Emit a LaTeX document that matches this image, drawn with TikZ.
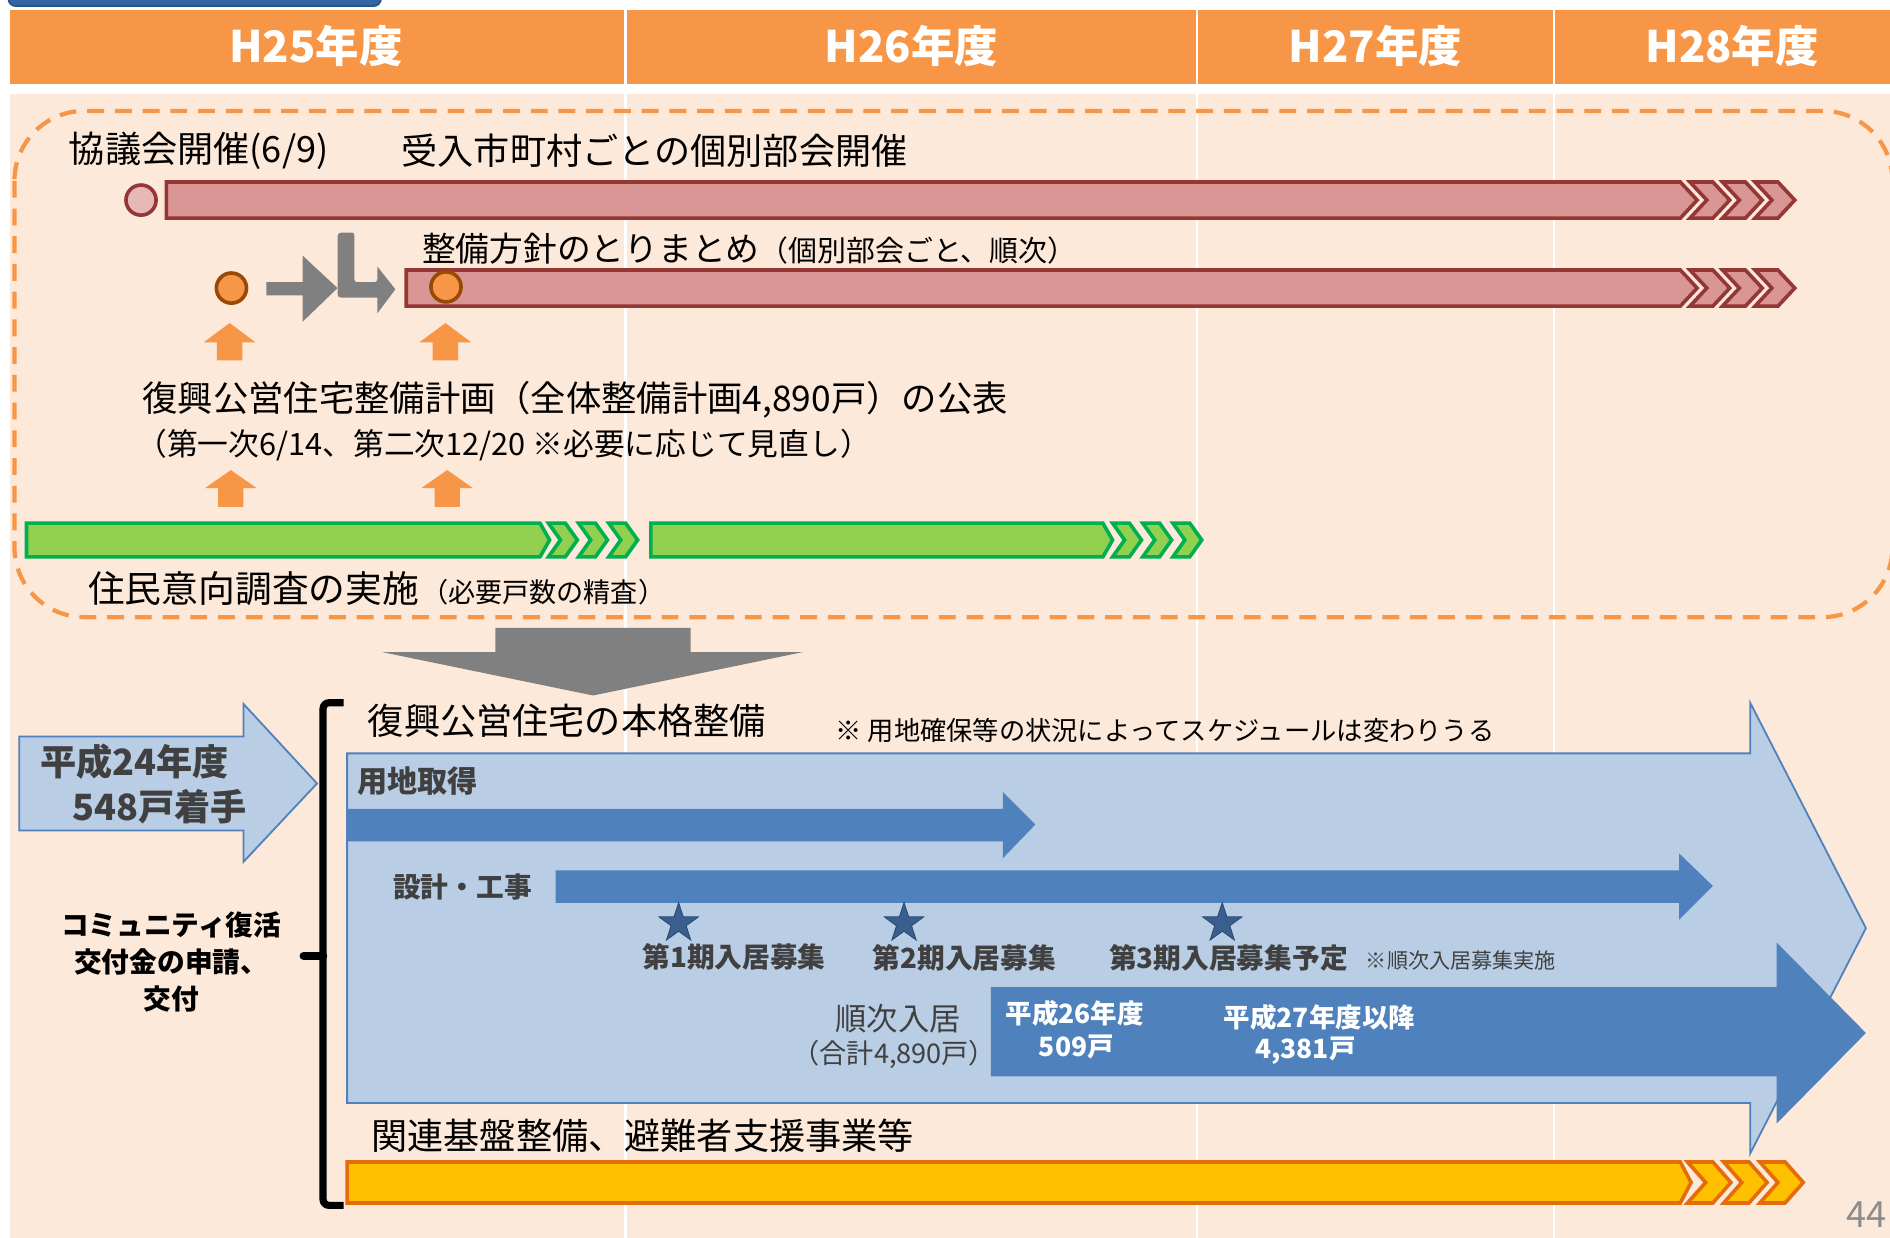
\documentclass[tikz,border=0pt]{standalone}
\usepackage{fontspec}
\setmainfont{Noto Sans CJK JP}
\usetikzlibrary{shapes,arrows,positioning}

\definecolor{HeadOrange}{HTML}{F79646}
\definecolor{Peach}{HTML}{FDE9D9}
\definecolor{TabBlue}{HTML}{3465A4}
\definecolor{TabLine}{HTML}{2A5286}
\definecolor{BarRed}{HTML}{D99694}
\definecolor{BarRedLine}{HTML}{953735}
\definecolor{PinkDot}{HTML}{E6B9B8}
\definecolor{DotLine}{HTML}{984807}
\definecolor{ArrowGray}{HTML}{808080}
\definecolor{BarGreen}{HTML}{92D050}
\definecolor{BarGreenLine}{HTML}{00B050}
\definecolor{PaleBlue}{HTML}{B9CDE5}
\definecolor{MidBlue}{HTML}{4F81BD}
\definecolor{StarBlue}{HTML}{3A5F8F}
\definecolor{StarLine}{HTML}{2C4D75}
\definecolor{BarGold}{HTML}{FFC000}
\definecolor{BarGoldLine}{HTML}{E46C0A}
\definecolor{TextGray}{HTML}{404040}
\definecolor{PageGray}{HTML}{8C8C8C}

\begin{document}
\begin{tikzpicture}[x=1pt, y=-1pt]
		\tikzstyle{Head}      = [inner sep=0pt, text=white, font=\bfseries\fontsize{36}{40}\selectfont]
		\tikzstyle{Big}       = [inner sep=0pt, anchor=west, font=\fontsize{30}{36}\selectfont]
		\tikzstyle{Note}      = [inner sep=0pt, anchor=west, font=\fontsize{25.5}{30}\selectfont]
		\tikzstyle{GrayBold}  = [inner sep=0pt, anchor=west, text=TextGray, font=\bfseries\fontsize{23}{28}\selectfont]
		\tikzstyle{WhiteBold} = [inner sep=0pt, text=white, font=\bfseries\fontsize{22}{28}\selectfont]
		\tikzstyle{RedBar}    = [fill=BarRed, draw=BarRedLine, line width=3pt]
		\tikzstyle{GreenBar}  = [fill=BarGreen, draw=BarGreenLine, line width=3pt]
		\tikzstyle{GoldBar}   = [fill=BarGold, draw=BarGoldLine, line width=3pt]
		\tikzstyle{UpArrow}   = [fill=HeadOrange]
		\tikzstyle{GrayArrow} = [fill=ArrowGray]
		\tikzstyle{PaleArrow} = [fill=PaleBlue, draw=MidBlue, line width=1.5pt]
		\tikzstyle{BlueArrow} = [fill=MidBlue]
		\tikzstyle{Frame}     = [draw=HeadOrange, line width=3.5pt, dash pattern=on 14pt off 9pt, rounded corners=58pt]
		\tikzstyle{Dot}       = [circle, draw=DotLine, fill=HeadOrange, line width=3pt, minimum size=25pt, inner sep=0pt]
		\tikzstyle{Star}      = [star, star points=5, star point ratio=2.6, fill=StarBlue, draw=StarLine, line width=0.8pt, minimum size=34pt, inner sep=0pt]

		\useasboundingbox (0,0) rectangle (1568,1027);
		\fill[white] (0,0) rectangle (1568,1027);

		% header and background
		\draw[fill=TabBlue, draw=TabLine, line width=1.5pt, rounded corners=6pt] (7,-20) rectangle (316,5);
		\fill[HeadOrange] (8,8) rectangle (1575,70);
		\fill[Peach] (8,78) rectangle (1575,1035);
		\draw (519,8) -- (519,1035) [white, line width=2pt];
		\draw (993,8) -- (993,1035) [white, line width=2pt];
		\draw (1289,8) -- (1289,1035) [white, line width=2pt];

		\node (h25) at (262,38) [Head] {H25年度};
		\node (h26) at (756,38) [Head] {H26年度};
		\node (h27) at (1141,38) [Head] {H27年度};
		\node (h28) at (1437,38) [Head] {H28年度};

		\draw[Frame] (12,92) rectangle (1570,512);

		% row 1
		\node (t1) at (57,125) [Big] {協議会開催(6/9)};
		\node (t2) at (333,125) [Big] {受入市町村ごとの個別部会開催};
		\draw[RedBar] (138,151) -- (1394,151) -- (1408,166) -- (1394,181) -- (138,181) -- cycle;
		\draw[RedBar] (1402,151) -- ++(19,0) -- ++(14,15) -- ++(-14,15) -- ++(-19,0) -- ++(14,-15) -- cycle;
		\draw[RedBar] (1429,151) -- ++(19,0) -- ++(14,15) -- ++(-14,15) -- ++(-19,0) -- ++(14,-15) -- cycle;
		\draw[RedBar] (1456,151) -- ++(19,0) -- ++(14,15) -- ++(-14,15) -- ++(-19,0) -- ++(14,-15) -- cycle;
		\node (c1) at (117,166) [Dot, fill=PinkDot, draw=BarRedLine] {};

		% row 2
		\node (t3) at (350,206) [inner sep=0pt, anchor=west] {{\fontsize{28}{34}\selectfont 整備方針のとりまとめ}{\fontsize{24}{30}\selectfont （個別部会ごと、順次）}};
		\draw[RedBar] (337,224) -- (1394,224) -- (1408,239) -- (1394,254) -- (337,254) -- cycle;
		\draw[RedBar] (1402,224) -- ++(19,0) -- ++(14,15) -- ++(-14,15) -- ++(-19,0) -- ++(14,-15) -- cycle;
		\draw[RedBar] (1429,224) -- ++(19,0) -- ++(14,15) -- ++(-14,15) -- ++(-19,0) -- ++(14,-15) -- cycle;
		\draw[RedBar] (1456,224) -- ++(19,0) -- ++(14,15) -- ++(-14,15) -- ++(-19,0) -- ++(14,-15) -- cycle;
		\node (c2) at (192,239) [Dot] {};
		\node (c3) at (370,238) [Dot] {};
		\fill[GrayArrow] (221,234) -- (251,234) -- (251,212) -- (280,239) -- (251,267) -- (251,245) -- (221,245) -- cycle;
		\fill[GrayArrow, rounded corners=2pt] (280,193) -- (294,193) -- (294,234) -- (313,234) [sharp corners] -- (313,221) -- (328,240) -- (313,260) -- (313,247) [rounded corners=3pt] -- (280,247) -- cycle;

		% plan announcement
		\fill[UpArrow] (190.5,268) -- (212,284) -- (201,284) -- (201,299) -- (180,299) -- (180,284) -- (169,284) -- cycle;
		\fill[UpArrow] (369.5,268) -- (391,284) -- (380,284) -- (380,299) -- (359,299) -- (359,284) -- (348,284) -- cycle;
		\node (t4) at (118,332) [inner sep=0pt, anchor=west, font=\fontsize{29.3}{35}\selectfont] {復興公営住宅整備計画（全体整備計画4,890戸）の公表};
		\node (t5) at (113,369) [Note] {（第一次6/14、第二次12/20 ※必要に応じて見直し）};
		\fill[UpArrow] (191.5,390) -- (213,405) -- (202,405) -- (202,420.5) -- (181,420.5) -- (181,405) -- (170,405) -- cycle;
		\fill[UpArrow] (371,390) -- (392.5,405) -- (381.5,405) -- (381.5,420.5) -- (360.5,420.5) -- (360.5,405) -- (349.5,405) -- cycle;

		% survey
		\draw[GreenBar] (22,434) -- (448,434) -- (456,448) -- (448,462) -- (22,462) -- cycle;
		\draw[GreenBar] (455,434) -- ++(14,0) -- ++(10,14) -- ++(-10,14) -- ++(-14,0) -- ++(10,-14) -- cycle;
		\draw[GreenBar] (480,434) -- ++(14,0) -- ++(10,14) -- ++(-10,14) -- ++(-14,0) -- ++(10,-14) -- cycle;
		\draw[GreenBar] (505,434) -- ++(14,0) -- ++(10,14) -- ++(-10,14) -- ++(-14,0) -- ++(10,-14) -- cycle;
		\draw[GreenBar] (540,434) -- (915,434) -- (923,448) -- (915,462) -- (540,462) -- cycle;
		\draw[GreenBar] (923,434) -- ++(14,0) -- ++(10,14) -- ++(-10,14) -- ++(-14,0) -- ++(10,-14) -- cycle;
		\draw[GreenBar] (948,434) -- ++(14,0) -- ++(10,14) -- ++(-10,14) -- ++(-14,0) -- ++(10,-14) -- cycle;
		\draw[GreenBar] (973,434) -- ++(14,0) -- ++(10,14) -- ++(-10,14) -- ++(-14,0) -- ++(10,-14) -- cycle;
		\node (t6) at (73,488) [inner sep=0pt, anchor=west] {{\fontsize{30.5}{36}\selectfont 住民意向調査の実施}\,{\fontsize{22.5}{26}\selectfont （必要戸数の精査）}};

		% down arrow
		\fill[GrayArrow] (411,521) -- (573,521) -- (573,541) -- (666,541) -- (492,577) -- (317,541) -- (411,541) -- cycle;

		% lower part
		\draw[PaleArrow] (16,611) -- (202,611) -- (202,584) -- (263,650) -- (202,715) -- (202,689) -- (16,689) -- cycle;
		\node (t7) at (33,632) [inner sep=0pt, anchor=west, text=TextGray, font=\bfseries\fontsize{30}{36}\selectfont] {平成24年度};
		\node (t8) at (60,669) [inner sep=0pt, anchor=west, text=TextGray, font=\bfseries\fontsize{30}{36}\selectfont] {548戸着手};
		\node (t9) at (142,798) [inner sep=0pt, align=center, font=\bfseries\fontsize{23}{31}\selectfont] {コミュニティ復活\\交付金の申請、\\交付};
		\draw[line width=6pt, rounded corners=5pt] (285,583) -- (268,583) -- (268,1000) -- (285,1000);
		\draw[line width=7pt, line cap=round] (252,793) -- (268,793);

		\node (t10) at (305,598) [Big] {復興公営住宅の本格整備};
		\node (t11) at (693,606) [inner sep=0pt, anchor=west, font=\fontsize{21.8}{26}\selectfont] {※ 用地確保等の状況によってスケジュールは変わりうる};
		\draw[PaleArrow] (288,625) -- (1452,625) -- (1452,583) -- (1548,770) -- (1452,957) -- (1452,915) -- (288,915) -- cycle;

		\node (t12) at (296,648) [GrayBold, font=\bfseries\fontsize{25}{30}\selectfont] {用地取得};
		\fill[BlueArrow] (288,671) -- (832,671) -- (832,657) -- (859,684) -- (832,712) -- (832,698) -- (288,698) -- cycle;
		\node (t13) at (326,736) [GrayBold] {設計・工事};
		\fill[BlueArrow] (461,722) -- (1393,722) -- (1393,708) -- (1421,735) -- (1393,763) -- (1393,749) -- (461,749) -- cycle;

		\node (s1) at (563,766) [Star] {};
		\node (s2) at (750,766) [Star] {};
		\node (s3) at (1014,766) [Star] {};
		\node (t14) at (609,794) [GrayBold, anchor=center] {第1期入居募集};
		\node (t15) at (800,795) [GrayBold, anchor=center] {第2期入居募集};
		\node (t16) at (920,795) [GrayBold] {第3期入居募集予定};
		\node (t17) at (1133,797) [inner sep=0pt, anchor=west, text=TextGray, font=\fontsize{17.5}{21}\selectfont] {※順次入居募集実施};

		\fill[BlueArrow] (822,819) -- (1474,819) -- (1474,782) -- (1548,857) -- (1474,932) -- (1474,893) -- (822,893) -- cycle;
		\node (t18) at (745,845) [inner sep=0pt, text=TextGray, font=\fontsize{26}{30}\selectfont] {順次入居};
		\node (t19) at (742,875) [inner sep=0pt, text=TextGray, font=\fontsize{22.5}{26}\selectfont] {（合計4,890戸）};
		\node (t20) at (834,841) [WhiteBold, anchor=west] {平成26年度};
		\node (t21) at (893,869) [WhiteBold] {509戸};
		\node (t22) at (1015,844) [WhiteBold, anchor=west] {平成27年度以降};
		\node (t23) at (1083,872) [WhiteBold] {4,381戸};

		% related projects
		\node (t24) at (308,942) [Big] {関連基盤整備、避難者支援事業等};
		\draw[GoldBar] (288,964) -- (1394,964) -- (1403,981) -- (1394,998) -- (288,998) -- cycle;
		\draw[GoldBar] (1400,964) -- ++(21,0) -- ++(15,17) -- ++(-15,17) -- ++(-21,0) -- ++(15,-17) -- cycle;
		\draw[GoldBar] (1430,964) -- ++(21,0) -- ++(15,17) -- ++(-15,17) -- ++(-21,0) -- ++(15,-17) -- cycle;
		\draw[GoldBar] (1460,964) -- ++(21,0) -- ++(15,17) -- ++(-15,17) -- ++(-21,0) -- ++(15,-17) -- cycle;

		\node (pg) at (1565,1008) [inner sep=0pt, anchor=east, text=PageGray, font=\fontsize{30}{36}\selectfont] {44};
	\end{tikzpicture}
\end{document}
